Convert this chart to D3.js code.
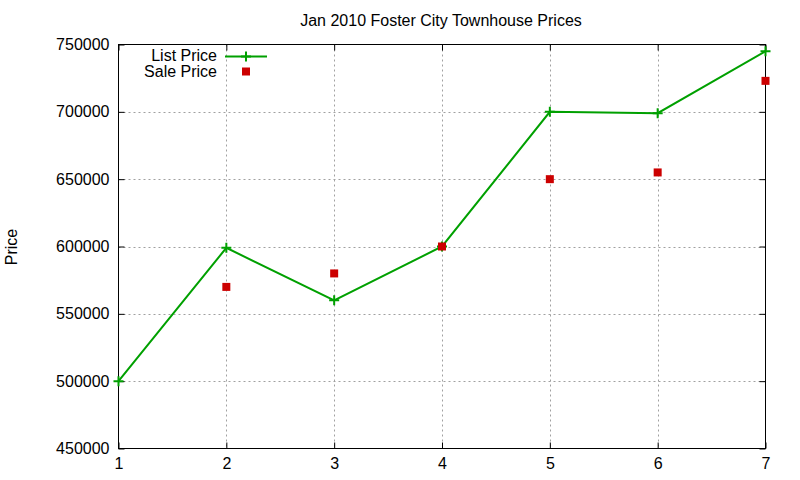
<!DOCTYPE html>
<html><head><meta charset="utf-8">
<script src="https://cdn.jsdelivr.net/npm/d3@7"></script>
<style>body{margin:0;background:#fff}svg{display:block;font-family:"Liberation Sans",Arial,sans-serif}</style>
</head><body><svg id="c" width="800" height="480"></svg>
<script>
const days = [1,2,3,4,5,6,7];
const listPrice = [500000,599000,560000,600000,700000,699000,745000];
const salePrice = [null,570000,580000,600000,650000,655000,723000];
const yTicks = [450000,500000,550000,600000,650000,700000,750000];
const xTicks = [1,2,3,4,5,6,7];
const title = "Jan 2010 Foster City Townhouse Prices";
const yLabel = "Price";
const seriesNames = ["List Price","Sale Price"];

const svg = d3.select("#c");
const L=118.5,R=765.5,T=44.5,B=448.5;
const x = d3.scaleLinear().domain([1,7]).range([L,R]);
const y = d3.scaleLinear().domain([450000,750000]).range([B,T]);

// grid
const g = svg.append("g");
g.selectAll(".gx").data(xTicks.slice(1,-1)).join("line")
  .attr("x1",d=>Math.round(x(d))+0.5).attr("x2",d=>Math.round(x(d))+0.5).attr("y1",T).attr("y2",B)
  .attr("stroke","#a0a0a0").attr("stroke-dasharray","2,3");
g.selectAll(".gy").data(yTicks.slice(1,-1)).join("line")
  .attr("y1",d=>Math.round(y(d))+0.5).attr("y2",d=>Math.round(y(d))+0.5).attr("x1",L).attr("x2",R)
  .attr("stroke","#a0a0a0").attr("stroke-dasharray","2,3");

// axes
const ax = d3.axisBottom(x).tickValues(xTicks).tickSize(-6).tickPadding(9).tickFormat(d3.format("d"));
const ay = d3.axisLeft(y).tickValues(yTicks).tickSize(-6).tickPadding(9).tickFormat(d3.format("d"));
const axT = d3.axisTop(x).tickValues(xTicks).tickSize(-6).tickFormat("");
const ayR = d3.axisRight(y).tickValues(yTicks).tickSize(-6).tickFormat("");
function style(sel){sel.select(".domain").remove();sel.selectAll("line").attr("stroke","#000");
  sel.selectAll("text").attr("fill","#000").attr("font-size","16px").attr("font-family","Liberation Sans, Arial, sans-serif");}
svg.append("g").attr("transform",`translate(0,${B})`).call(ax).call(style);
svg.append("g").attr("transform",`translate(${L},0)`).call(ay).call(style);
svg.append("g").attr("transform",`translate(0,${T})`).call(axT).call(style);
svg.append("g").attr("transform",`translate(${R},0)`).call(ayR).call(style);
svg.append("rect").attr("x",L).attr("y",T).attr("width",R-L).attr("height",B-T)
  .attr("fill","none").attr("stroke","#000").attr("stroke-width",1);

// title & label
svg.append("text").attr("x",441).attr("y",26).attr("text-anchor","middle").attr("font-size","16px").text(title);
svg.append("text").attr("transform","translate(17,247) rotate(-90)").attr("text-anchor","middle").attr("font-size","16px").text(yLabel);

const green="#00a000", red="#cc0000";
const line = d3.line().x((d,i)=>x(days[i])).y(d=>y(d));
svg.append("path").datum(listPrice).attr("d",line).attr("fill","none").attr("stroke",green).attr("stroke-width",2);
const plus = (sel,cx,cy)=>sel.append("path").attr("d",`M${cx-5},${cy}H${cx+5}M${cx},${cy-5}V${cy+5}`).attr("stroke",green).attr("stroke-width",2);
listPrice.forEach((v,i)=>plus(svg,x(days[i]),y(v)));
svg.selectAll(".sq").data(salePrice.map((v,i)=>({v,d:days[i]})).filter(o=>o.v!==null)).join("rect")
  .attr("x",o=>x(o.d)-4).attr("y",o=>y(o.v)-4).attr("width",8).attr("height",8).attr("fill",red);

// legend
svg.append("text").attr("x",217).attr("y",61).attr("text-anchor","end").attr("font-size","16px").text(seriesNames[0]);
svg.append("line").attr("x1",225).attr("x2",267).attr("y1",56.5).attr("y2",56.5).attr("stroke",green).attr("stroke-width",2);
plus(svg,246,56.5);
svg.append("text").attr("x",217).attr("y",77).attr("text-anchor","end").attr("font-size","16px").text(seriesNames[1]);
svg.append("rect").attr("x",242).attr("y",67.5).attr("width",8).attr("height",8).attr("fill",red);
</script></body></html>
